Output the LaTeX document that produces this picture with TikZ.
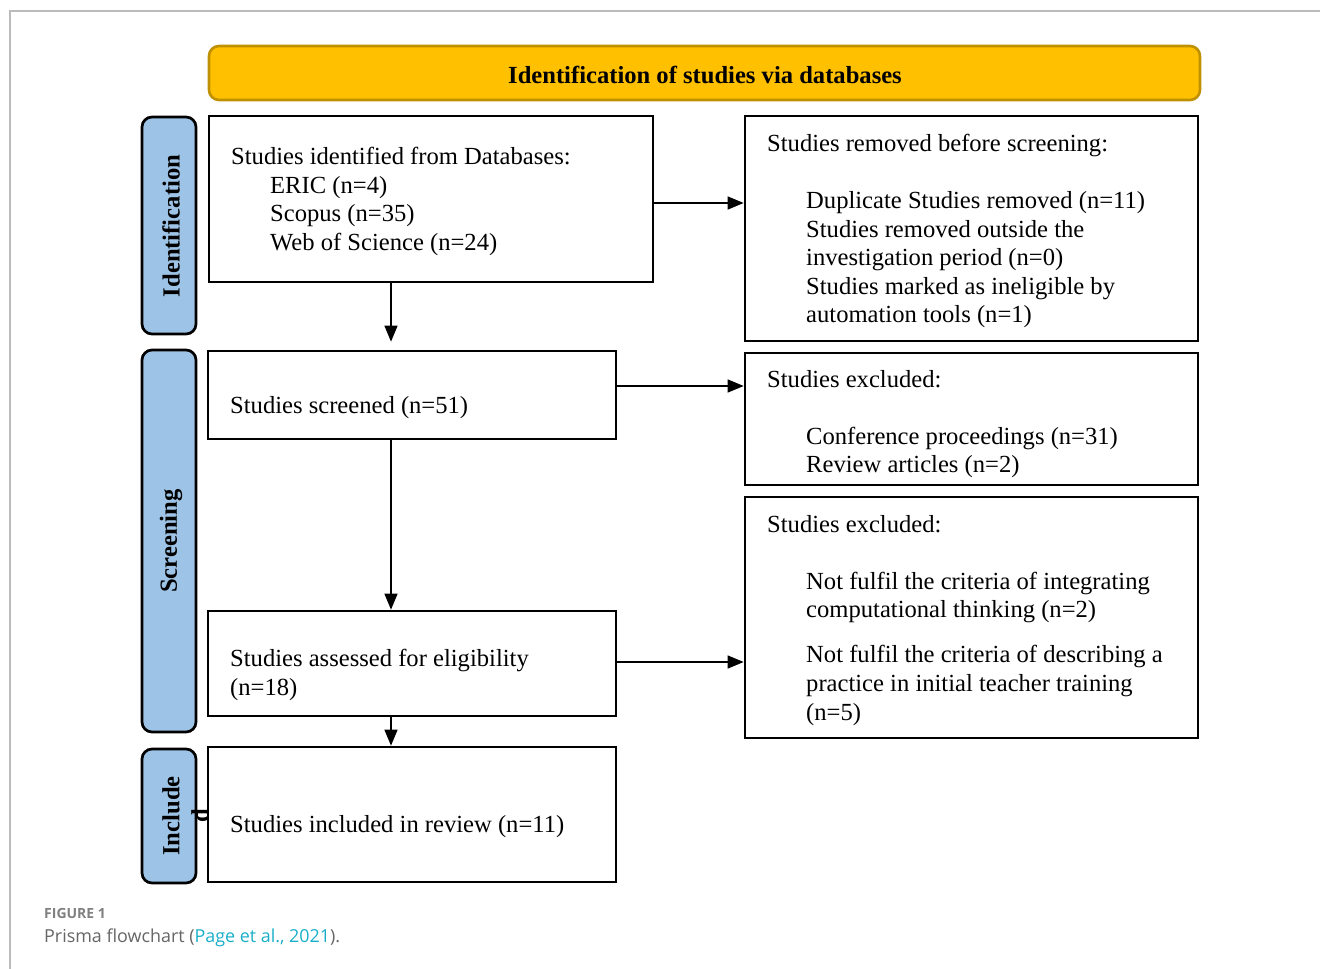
\documentclass[tikz,border=0pt]{standalone}
\usepackage{fontspec}
\setmainfont{Liberation Serif}
\newfontfamily\capfont{Open Sans}
\usetikzlibrary{arrows.meta}
\definecolor{hdrfill}{HTML}{FFC000}
\definecolor{hdrdraw}{HTML}{BF9000}
\definecolor{sidefill}{HTML}{9DC3E6}
\definecolor{framegray}{HTML}{BBBBBB}
\definecolor{capgray}{HTML}{666666}
\definecolor{figgray}{HTML}{808080}
\definecolor{linkc}{HTML}{1AAFC9}
\tikzset{
  box/.style={draw=black, line width=2.7pt, inner sep=0pt, fill=white},
  hdr/.style={draw=hdrdraw, fill=hdrfill, line width=2.6pt, rounded corners=10pt, inner sep=0pt},
  side/.style={draw=black, fill=sidefill, line width=2.7pt, rounded corners=10pt, inner sep=0pt, minimum width=54pt},
  sidetxt/.style={rotate=90, font=\fontsize{24.6}{29}\selectfont\bfseries, align=center, inner sep=0pt},
  tx/.style={anchor=base west, inner sep=0pt, font=\fontsize{24.6}{28.7}\selectfont},
  arr/.style={line width=1.4pt, -{Triangle[length=16pt,width=13pt]}},
}
\begin{document}
\begin{tikzpicture}[x=1pt,y=-1pt]
\useasboundingbox (0,0) rectangle (1320,969);
% figure frame
\draw[framegray, line width=1.5pt] (10,969) -- (10,11) -- (1320,11);

% header
\node[hdr, minimum width=991pt, minimum height=54pt] (hdr) at (704.5,73) {};
\node[font=\fontsize{24.6}{28.7}\selectfont\bfseries, inner sep=0pt] (hdrt) at (705,75) {Identification of studies via databases};

% side labels
\node[side, minimum height=217pt] (sid) at (169,225.5) {};
\node[sidetxt] (sidt) at (171,226) {Identification};
\node[side, minimum height=382pt] (sscr) at (169,541) {};
\node[sidetxt] (sscrt) at (171,541) {Screening};
\node[side, minimum height=134pt] (sinc) at (169,816) {};
\node[sidetxt] (sinct) at (185.5,816) {Include\\d};

% boxes
\node[box, minimum width=444pt, minimum height=166pt] (b1) at (431,199) {};
\node[box, minimum width=453pt, minimum height=225pt] (r1) at (971.5,228.5) {};
\node[box, minimum width=408pt, minimum height=88pt] (b2) at (412,395) {};
\node[box, minimum width=453pt, minimum height=132pt] (r2) at (971.5,419) {};
\node[box, minimum width=453pt, minimum height=241pt] (r3) at (971.5,617.5) {};
\node[box, minimum width=408pt, minimum height=105pt] (b3) at (412,663.5) {};
\node[box, minimum width=408pt, minimum height=135pt] (b4) at (412,814.5) {};

% texts box 1
\node[tx] (b1l1) at (231,164) {Studies identified from Databases:};
\node[tx] (b1l2) at (270,193) {ERIC (n=4)};
\node[tx] (b1l3) at (270,221) {Scopus (n=35)};
\node[tx] (b1l4) at (270,250) {Web of Science (n=24)};
% texts r1
\node[tx] (r1l1) at (767,151) {Studies removed before screening:};
\node[tx] (r1l2) at (806,208) {Duplicate Studies removed (n=11)};
\node[tx] (r1l3) at (806,237) {Studies removed outside the};
\node[tx] (r1l4) at (806,265) {investigation period (n=0)};
\node[tx] (r1l5) at (806,294) {Studies marked as ineligible by};
\node[tx] (r1l6) at (806,322) {automation tools (n=1)};
% b2
\node[tx] (b2l1) at (230,413) {Studies screened (n=51)};
% r2
\node[tx] (r2l1) at (767,387) {Studies excluded:};
\node[tx] (r2l2) at (806,444) {Conference proceedings (n=31)};
\node[tx] (r2l3) at (806,472) {Review articles (n=2)};
% r3
\node[tx] (r3l1) at (767,532) {Studies excluded:};
\node[tx] (r3l2) at (806,589) {Not fulfil the criteria of integrating};
\node[tx] (r3l3) at (806,617) {computational thinking (n=2)};
\node[tx] (r3l4) at (806,662) {Not fulfil the criteria of describing a};
\node[tx] (r3l5) at (806,691) {practice in initial teacher training};
\node[tx] (r3l6) at (806,720) {(n=5)};
% b3
\node[tx] (b3l1) at (230,666) {Studies assessed for eligibility};
\node[tx] (b3l2) at (230,695) {(n=18)};
% b4
\node[tx] (b4l1) at (230,832) {Studies included in review (n=11)};

% connectors
\coordinate (vx) at (391,0);
\draw[arr] ([yshift=-4pt]b1.east) -- ([yshift=-4pt]b1.east -| r1.west);
\draw[arr, shorten >=8pt] (b1.south -| vx) -- (b2.north -| vx);
\draw[arr] ([yshift=9pt]b2.east) -- ([yshift=9pt]b2.east -| r2.west);
\draw[arr] (b2.south -| vx) -- (b3.north -| vx);
\draw[arr] ([yshift=1.5pt]b3.east) -- ([yshift=1.5pt]b3.east -| r3.west);
\draw[arr] (b3.south -| vx) -- (b4.north -| vx);

% caption
\node[anchor=base west, inner sep=0pt, font=\capfont\fontsize{14}{16}\selectfont\bfseries, text=figgray] (figl) at (44,918) {FIGURE 1};
\node[anchor=base west, inner sep=0pt, font=\capfont\fontsize{17.9}{20}\selectfont, text=capgray] (capl) at (44,942) {Prisma flowchart (\textcolor{linkc}{Page et al., 2021}).};
\end{tikzpicture}
\end{document}
